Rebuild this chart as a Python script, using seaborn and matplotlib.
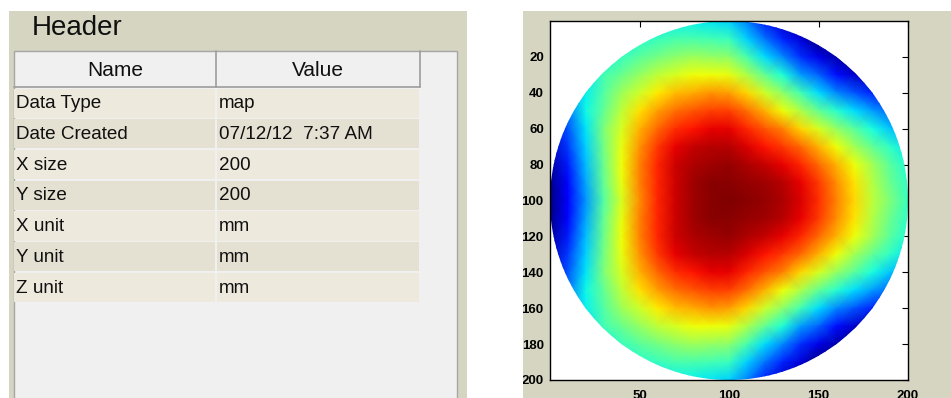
import matplotlib
matplotlib.use("Agg")

import matplotlib.pyplot as plt
import numpy as np
import seaborn as sns
from matplotlib.patches import Circle, Rectangle
from matplotlib.transforms import Bbox, TransformedBbox

FIG_W, FIG_H = 951, 398

# header table contents
panel_title = "Header"
column_titles = ["Name", "Value"]
field_names = ["Data Type", "Date Created", "X size", "Y size", "X unit", "Y unit", "Z unit"]
field_values = ["map", "07/12/12  7:37 AM", "200", "200", "mm", "mm", "mm"]

# map axes
grid_step_mm = 10
x_ticks_mm = [50, 100, 150, 200]
y_ticks_mm = [20, 40, 60, 80, 100, 120, 140, 160, 180, 200]

# surface values, one row every 10 mm (y = 0 at top)
surface_rows = [
    [0.11, 0.16, 0.21, 0.25, 0.30, 0.32, 0.34, 0.36, 0.36, 0.35, 0.33, 0.25, 0.15, 0.06, 0.00, 0.00, 0.00, 0.00, 0.00, 0.00, 0.00],
    [0.13, 0.21, 0.27, 0.31, 0.36, 0.40, 0.42, 0.44, 0.44, 0.43, 0.42, 0.33, 0.24, 0.16, 0.08, 0.00, 0.00, 0.00, 0.00, 0.00, 0.00],
    [0.15, 0.23, 0.32, 0.37, 0.42, 0.46, 0.49, 0.52, 0.54, 0.53, 0.52, 0.44, 0.34, 0.26, 0.17, 0.09, 0.04, 0.00, 0.00, 0.00, 0.00],
    [0.15, 0.25, 0.34, 0.43, 0.48, 0.53, 0.58, 0.61, 0.64, 0.64, 0.63, 0.56, 0.47, 0.39, 0.28, 0.22, 0.14, 0.07, 0.04, 0.00, 0.00],
    [0.14, 0.26, 0.36, 0.45, 0.54, 0.60, 0.66, 0.71, 0.73, 0.75, 0.74, 0.68, 0.60, 0.52, 0.43, 0.34, 0.26, 0.21, 0.16, 0.12, 0.07],
    [0.12, 0.24, 0.37, 0.47, 0.58, 0.67, 0.74, 0.79, 0.82, 0.84, 0.84, 0.79, 0.72, 0.64, 0.56, 0.47, 0.40, 0.34, 0.28, 0.23, 0.17],
    [0.09, 0.21, 0.35, 0.50, 0.61, 0.72, 0.80, 0.86, 0.89, 0.91, 0.91, 0.87, 0.82, 0.77, 0.68, 0.61, 0.53, 0.46, 0.38, 0.32, 0.27],
    [0.06, 0.18, 0.33, 0.49, 0.63, 0.75, 0.85, 0.91, 0.94, 0.95, 0.95, 0.92, 0.89, 0.85, 0.80, 0.72, 0.64, 0.55, 0.47, 0.41, 0.35],
    [0.03, 0.15, 0.31, 0.48, 0.64, 0.77, 0.87, 0.93, 0.96, 0.97, 0.98, 0.96, 0.94, 0.91, 0.87, 0.80, 0.72, 0.64, 0.55, 0.46, 0.39],
    [0.01, 0.13, 0.29, 0.47, 0.63, 0.77, 0.87, 0.93, 0.97, 0.99, 0.99, 0.98, 0.97, 0.95, 0.91, 0.85, 0.76, 0.67, 0.57, 0.48, 0.41],
    [0.00, 0.11, 0.27, 0.45, 0.61, 0.76, 0.87, 0.93, 0.97, 0.99, 1.00, 0.99, 0.98, 0.96, 0.92, 0.86, 0.77, 0.68, 0.58, 0.50, 0.42],
    [0.01, 0.13, 0.29, 0.47, 0.63, 0.77, 0.87, 0.93, 0.97, 0.99, 0.99, 0.98, 0.97, 0.95, 0.91, 0.85, 0.76, 0.67, 0.57, 0.48, 0.41],
    [0.03, 0.15, 0.31, 0.48, 0.64, 0.77, 0.87, 0.93, 0.96, 0.97, 0.98, 0.96, 0.94, 0.91, 0.87, 0.80, 0.72, 0.64, 0.55, 0.46, 0.39],
    [0.06, 0.18, 0.33, 0.49, 0.63, 0.75, 0.85, 0.91, 0.94, 0.95, 0.95, 0.92, 0.89, 0.85, 0.80, 0.72, 0.64, 0.55, 0.47, 0.41, 0.35],
    [0.09, 0.21, 0.35, 0.50, 0.61, 0.72, 0.80, 0.86, 0.89, 0.91, 0.91, 0.87, 0.82, 0.77, 0.68, 0.61, 0.53, 0.46, 0.38, 0.32, 0.27],
    [0.12, 0.24, 0.37, 0.47, 0.58, 0.67, 0.74, 0.79, 0.82, 0.84, 0.84, 0.79, 0.72, 0.64, 0.56, 0.47, 0.40, 0.34, 0.28, 0.23, 0.17],
    [0.14, 0.26, 0.36, 0.45, 0.54, 0.60, 0.66, 0.71, 0.73, 0.75, 0.74, 0.68, 0.60, 0.52, 0.43, 0.34, 0.26, 0.21, 0.16, 0.12, 0.07],
    [0.15, 0.25, 0.34, 0.43, 0.48, 0.53, 0.58, 0.61, 0.64, 0.64, 0.63, 0.56, 0.47, 0.39, 0.28, 0.22, 0.14, 0.07, 0.04, 0.00, 0.00],
    [0.15, 0.23, 0.32, 0.37, 0.42, 0.46, 0.49, 0.52, 0.54, 0.53, 0.52, 0.44, 0.34, 0.26, 0.17, 0.09, 0.04, 0.00, 0.00, 0.00, 0.00],
    [0.13, 0.21, 0.27, 0.31, 0.36, 0.40, 0.42, 0.44, 0.44, 0.43, 0.42, 0.33, 0.24, 0.16, 0.08, 0.00, 0.00, 0.00, 0.00, 0.00, 0.00],
    [0.11, 0.16, 0.21, 0.25, 0.30, 0.32, 0.34, 0.36, 0.36, 0.35, 0.33, 0.25, 0.15, 0.06, 0.00, 0.00, 0.00, 0.00, 0.00, 0.00, 0.00],
]

PANEL = "#d6d5c1"
TABLE_BG = "#f0f0f0"
GRID_LINE = "#9c9c9c"
ROW_COLORS = ["#ede9dc", "#e4e1d3"]
TEXT = "#101010"

sns.set_style("white")
plt.rcParams["font.family"] = ["Liberation Sans", "DejaVu Sans"]


def fig_box(x0, y0, x1, y1):
    # pixel box (y down) -> figure fraction rect
    return [x0 / FIG_W, 1 - y1 / FIG_H, (x1 - x0) / FIG_W, (y1 - y0) / FIG_H]


fig = plt.figure(figsize=(FIG_W / 100, FIG_H / 100), dpi=100)
fig.patch.set_facecolor("white")

# background layer in pixel coordinates
bg = fig.add_axes([0, 0, 1, 1])
bg.set_xlim(0, FIG_W)
bg.set_ylim(FIG_H, 0)
bg.axis("off")

# left panel: header table
bg.add_patch(Rectangle((9, 11), 458, 390, facecolor=PANEL, edgecolor="none"))
bg.text(32, 28, panel_title, fontsize=20, color=TEXT, va="center", ha="left")
bg.add_patch(Rectangle((13.5, 50.5), 443.5, 360, facecolor=TABLE_BG,
                       edgecolor="#a6a6a6", linewidth=1.0))

col_x = [14, 216, 420]
head_top, head_bot = 51, 87
bg.plot([col_x[0], col_x[2]], [head_bot, head_bot], color=GRID_LINE, lw=1.2)
for x in col_x[1:]:
    bg.plot([x, x], [head_top, head_bot], color=GRID_LINE, lw=1.2)
for i, title in enumerate(column_titles):
    bg.text((col_x[i] + col_x[i + 1]) / 2, 71, title, fontsize=15,
            color=TEXT, ha="center", va="center")

row_top = 88.5
row_h = 30.7
for i, (name, value) in enumerate(zip(field_names, field_values)):
    y0 = row_top + i * row_h
    color = ROW_COLORS[i % 2]
    bg.add_patch(Rectangle((col_x[0], y0), col_x[1] - col_x[0] - 1, row_h - 1.5,
                           facecolor=color, edgecolor="none"))
    bg.add_patch(Rectangle((col_x[1] + 1, y0), col_x[2] - col_x[1] - 2, row_h - 1.5,
                           facecolor=color, edgecolor="none"))
    yc = y0 + row_h / 2
    bg.text(16, yc, name, fontsize=13.6, color=TEXT, ha="left", va="center")
    bg.text(219, yc, value, fontsize=13.6, color=TEXT, ha="left", va="center")

# right panel: surface map
bg.add_patch(Rectangle((523, 11), FIG_W - 523, 390, facecolor=PANEL, edgecolor="none"))

ax = fig.add_axes(fig_box(550, 21, 908, 380))
surface = np.array(surface_rows)
n = surface.shape[0] - 1
sns.heatmap(surface, ax=ax, cmap="jet", vmin=0, vmax=1, cbar=False,
            xticklabels=False, yticklabels=False, shading="gouraud")
ax.set_facecolor("white")
ax.set_xlim(0, n)
ax.set_ylim(n, 0)

disc = Circle((n / 2, n / 2), n / 2, transform=ax.transData)
ax.collections[0].set_clip_path(disc)

ax.set_xticks([v / grid_step_mm for v in x_ticks_mm])
ax.set_xticklabels([str(v) for v in x_ticks_mm])
ax.set_yticks([v / grid_step_mm for v in y_ticks_mm])
ax.set_yticklabels([str(v) for v in y_ticks_mm])
ax.tick_params(axis="both", direction="in", length=4, width=0.8, color="black",
               top=True, right=True, labelsize=9.5, labelcolor="black")
ax.tick_params(axis="x", pad=7)
ax.tick_params(axis="y", pad=4.5)
for lbl in ax.get_xticklabels() + ax.get_yticklabels():
    lbl.set_fontweight("bold")
for sp in ax.spines.values():
    sp.set_visible(True)
    sp.set_color("black")
    sp.set_linewidth(1.0)

# labels are cut at the panel's left edge
panel_clip = TransformedBbox(Bbox.from_extents(523 / FIG_W, 0, 1, 1), fig.transFigure)
for tick in ax.yaxis.get_major_ticks():
    tick.label1.set_clip_box(panel_clip)
    tick.label1.set_clip_on(True)

fig.savefig("out.png", dpi=100, facecolor=fig.get_facecolor())
